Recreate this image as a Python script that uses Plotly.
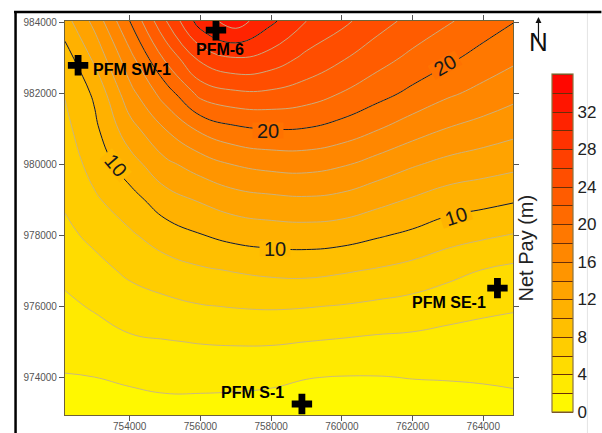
import plotly.graph_objects as go

FONT = "Liberation Sans"

# Grid
easting = [752170, 753000, 754000, 755000, 756000, 757000, 758000,
           759000, 760000, 761000, 762000, 763000, 764000, 764840]
northing = [984050, 983000, 982000, 981000, 980000, 979000,
            978000, 977000, 976000, 975000, 974000, 972930]

# Net pay (m): one list per easting, values running north to south
pay_752170 = [11.2, 9.0, 8.1, 7.5, 6.9, 6.3, 5.5, 4.5, 3.6, 2.8, 1.9, 1.0]
pay_753000 = [14.6, 12.4, 10.3, 9.5, 8.7, 7.7, 6.5, 5.3, 4.2, 3.1, 2.0, 1.0]
pay_754000 = [20.0, 17.3, 15.3, 13.2, 11.1, 9.2, 7.7, 6.4, 5.0, 3.7, 2.3, 1.1]
pay_755000 = [25.8, 22.3, 18.9, 16.0, 13.5, 11.1, 9.0, 7.1, 5.5, 3.9, 2.6, 1.2]
pay_756000 = [31.0, 26.5, 22.6, 18.4, 14.9, 12.2, 9.9, 7.7, 5.9, 4.1, 2.6, 1.2]
pay_757000 = [33.0, 27.9, 23.6, 19.6, 16.1, 13.1, 10.6, 8.1, 6.1, 4.2, 2.5, 1.2]
pay_758000 = [30.4, 27.2, 23.6, 20.0, 16.6, 13.5, 10.9, 8.4, 6.2, 4.2, 2.33, 1.2]
pay_759000 = [28.0, 25.5, 23.0, 19.9, 16.7, 13.7, 11.0, 8.5, 6.1, 4.0, 2.05, 1.2]
pay_760000 = [26.5, 24.2, 21.9, 19.2, 16.2, 13.4, 10.8, 8.2, 5.9, 3.8, 1.95, 1.1]
pay_761000 = [24.8, 22.8, 20.7, 18.1, 15.2, 12.6, 10.2, 7.8, 5.6, 3.6, 1.95, 1.1]
pay_762000 = [23.4, 21.5, 19.5, 16.9, 14.2, 11.8, 9.6, 7.3, 5.3, 3.5, 2.05, 1.1]
pay_763000 = [22.2, 20.4, 18.3, 15.9, 13.4, 11.0, 8.8, 6.6, 4.8, 3.3, 2.1, 1.1]
pay_764000 = [21.1, 19.2, 17.4, 15.2, 12.9, 10.6, 8.3, 5.9, 4.4, 3.2, 2.2, 1.1]
pay_764840 = [20.1, 18.4, 16.6, 14.6, 12.5, 10.2, 7.9, 5.5, 4.2, 3.1, 2.3, 1.3]

pay_columns = [pay_752170, pay_753000, pay_754000, pay_755000, pay_756000,
               pay_757000, pay_758000, pay_759000, pay_760000, pay_761000,
               pay_762000, pay_763000, pay_764000, pay_764840]

well_names = ["PFM-6", "PFM SW-1", "PFM SE-1", "PFM S-1"]
well_x = [756440, 752540, 764400, 758870]
well_y = [983790, 982800, 976510, 973240]

x_ticks = [754000, 756000, 758000, 760000, 762000, 764000]
y_ticks = [974000, 976000, 978000, 980000, 982000, 984000]
bar_ticks = [0, 4, 8, 12, 16, 20, 24, 28, 32]

contour_label_text = ["20", "20", "10", "10", "10"]
contour_label_x = [757907, 762907, 753613, 758105, 763220]
contour_label_y = [980968, 982800, 979980, 977640, 978540]

rows = [list(r) for r in zip(*pay_columns)]
z = rows[::-1]
y_up = northing[::-1]

scale = [[0, "#ffff00"], [1, "#ff0000"]]
levels = dict(start=0, end=36, size=2, coloring="fill", showlines=True)

fig = go.Figure()
# carries the colour bar with its dark separators
fig.add_trace(go.Contour(
    x=easting, y=y_up, z=z, zmin=0, zmax=36, colorscale=scale,
    contours=levels, line=dict(color="#6a2f08", width=1, smoothing=1.3),
    hoverinfo="skip",
    colorbar=dict(
        thickness=21, thicknessmode="pixels", len=338, lenmode="pixels",
        x=1.086, xanchor="left", y=0.8655, yanchor="top", xpad=0, ypad=0,
        tickvals=bar_ticks, ticks="", outlinecolor="#8a7440", outlinewidth=1.2,
        tickfont=dict(family=FONT, size=17, color="#222222"),
    ),
))
fig.add_trace(go.Contour(
    x=easting, y=y_up, z=z, zmin=0, zmax=36, colorscale=scale,
    contours=levels, line=dict(color="rgba(195,180,140,0.9)", width=1, smoothing=1.3),
    showscale=False, hoverinfo="skip",
))
fig.add_trace(go.Contour(
    x=easting, y=y_up, z=z, showscale=False, hoverinfo="skip",
    contours=dict(start=10, end=30, size=10, coloring="none"),
    line=dict(color="#1a1a1a", width=1, smoothing=1.3),
))
fig.add_trace(go.Scatter(
    x=well_x, y=well_y, mode="markers", hoverinfo="skip", showlegend=False,
    marker=dict(symbol="cross", size=17, color="black", line=dict(width=0)),
))

axis_line = "#6f6238"
fig.update_xaxes(range=[752170, 764840], tickvals=x_ticks, tickformat="d",
                 showgrid=False, zeroline=False, showline=True, linecolor=axis_line,
                 linewidth=1.2, mirror="ticks", ticks="outside", ticklen=5, ticklabelstandoff=-3,
                 tickcolor="#555555", tickfont=dict(family=FONT, size=10, color="#555555"))
fig.update_yaxes(range=[972930, 984050], tickvals=y_ticks, tickformat="d",
                 showgrid=False, zeroline=False, showline=True, linecolor=axis_line,
                 linewidth=1.2, mirror="ticks", ticks="outside", ticklen=5,
                 tickcolor="#555555", tickfont=dict(family=FONT, size=10, color="#555555"))

ann = []
well_style = [(4.5, -19, "center"), (13, -4, "left"), (-9, -14, "right"), (-16, 12, "right")]
for name, wx, wy, (sx, sy, anchor) in zip(well_names, well_x, well_y, well_style):
    ann.append(dict(x=wx, y=wy, text=f"<b>{name}</b>", showarrow=False, xshift=sx, yshift=sy,
                    xanchor=anchor, font=dict(family=FONT, size=16, color="black")))

label_angles = [0, -30, 50, 0, -18]
label_fill = ["#ff7200", "#ff7200", "#ffb900", "#ffb900", "#ffb400"]
for t, lx, ly, ang, bg in zip(contour_label_text, contour_label_x, contour_label_y, label_angles, label_fill):
    ann.append(dict(x=lx, y=ly, text=t, showarrow=False, textangle=ang, bgcolor=bg,
                    width=30, height=15, borderpad=0,
                    font=dict(family=FONT, size=20, color="#1a1a1a")))

ann.append(dict(xref="paper", yref="paper", x=(527 - 65) / 448.5, y=(415 - 248) / 394,
                text="Net Pay (m)", textangle=-90, showarrow=False, xanchor="center", yanchor="middle",
                font=dict(family=FONT, size=20, color="#222222")))
ann.append(dict(xref="paper", yref="paper", x=(539 - 65) / 448.5, y=(415 - 42) / 394,
                text="N", showarrow=False, xanchor="center", yanchor="middle",
                font=dict(family=FONT, size=26, color="#111111")))
ann.append(dict(xref="paper", yref="paper", x=(539 - 65) / 448.5, y=(415 - 17) / 394,
                text="", showarrow=True, ax=0, ay=26, arrowhead=2, arrowsize=1, arrowwidth=1.2,
                arrowcolor="#111111", standoff=0))

def px(v):
    return (v - 65) / 448.5

def py(v):
    return (415 - v) / 394

shapes = [
    dict(type="line", xref="paper", yref="paper", x0=px(588), x1=px(588), y0=py(12), y1=py(433),
         line=dict(color="#e4e4e4", width=1)),
    dict(type="line", xref="paper", yref="paper", x0=px(15.5), x1=px(15.5), y0=py(11), y1=py(433),
         line=dict(color="black", width=2.5)),
    dict(type="line", xref="paper", yref="paper", x0=px(14), x1=px(602), y0=py(12), y1=py(12),
         line=dict(color="black", width=2.5)),
]

fig.update_layout(width=602, height=433, autosize=False, showlegend=False,
                  margin=dict(l=65, r=88.5, t=21, b=18, autoexpand=False), paper_bgcolor="white",
                  plot_bgcolor="white", annotations=ann, shapes=shapes,
                  font=dict(family=FONT))
fig.write_html("out.html", config=dict(displayModeBar=False),
               post_script="document.body.style.margin='0';document.body.style.overflow='hidden';")
